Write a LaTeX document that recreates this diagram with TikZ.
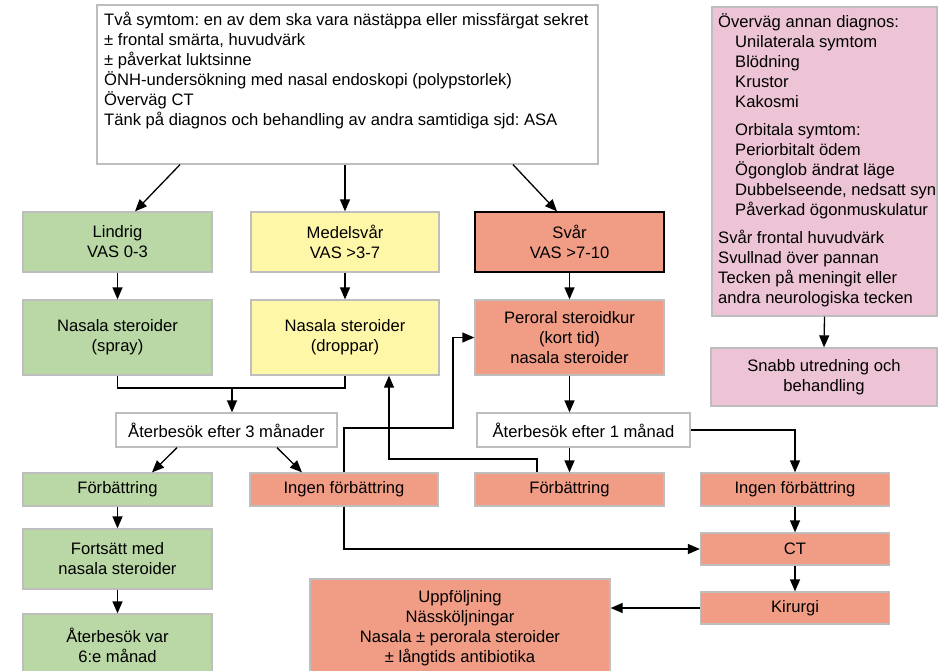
\documentclass[tikz,border=0pt]{standalone}
\usepackage{fontspec}
\setmainfont{Liberation Sans}
\usetikzlibrary{arrows.meta}
\frenchspacing
\definecolor{cgreen}{RGB}{186,216,166}
\definecolor{cyellow}{RGB}{255,247,168}
\definecolor{csalmon}{RGB}{241,157,134}
\definecolor{cpink}{RGB}{236,196,214}
\definecolor{cborder}{RGB}{190,190,190}
\begin{document}
\begin{tikzpicture}[x=1pt,y=-1pt,
  font=\fontsize{16.6}{20}\selectfont\frenchspacing,
  box/.style={draw=cborder, line width=1.3pt, inner sep=0pt, align=center, text=black},
  conn/.style={line width=1.3pt, -{Triangle[length=12pt,width=10pt]}},
  wire/.style={line width=1.3pt}]
\clip (0,0) rectangle (944,670);
\fill[white] (0,0) rectangle (944,670);

% top box
\node[box, fill=white, minimum width=501pt, minimum height=159pt] (top) at (347.5,84.5) {};
\node[anchor=base west, inner sep=0pt] (toptext) at (104,25) {\parbox[t]{490pt}{\raggedright
Två symtom: en av dem ska vara nästäppa eller missfärgat sekret\\
± frontal smärta, huvudvärk\\
± påverkat luktsinne\\
ÖNH-undersökning med nasal endoskopi (polypstorlek)\\
Överväg CT\\
Tänk på diagnos och behandling av andra samtidiga sjd: ASA}};

% pink box
\node[box, fill=cpink, minimum width=225pt, minimum height=309pt] (pink) at (824.5,161.5) {};
\node[anchor=base west, inner sep=0pt] (pinktext) at (718,27) {\parbox[t]{218pt}{\raggedright
Överväg annan diagnos:\\
\hspace*{17pt}Unilaterala symtom\\
\hspace*{17pt}Blödning\\
\hspace*{17pt}Krustor\\
\hspace*{17pt}Kakosmi\\[8pt]
\hspace*{17pt}Orbitala symtom:\\
\hspace*{17pt}Periorbitalt ödem\\
\hspace*{17pt}Ögonglob ändrat läge\\
\hspace*{17pt}Dubbelseende, nedsatt syn\\
\hspace*{17pt}Påverkad ögonmuskulatur\\[8pt]
Svår frontal huvudvärk\\
Svullnad över pannan\\
Tecken på meningit eller\\
andra neurologiska tecken}};
\node[box, fill=cpink, minimum width=226pt, minimum height=58pt] (snabb) at (824,377) {Snabb utredning och\\behandling};

% severity row
\node[box, fill=cgreen, minimum width=189pt, minimum height=60pt] (lindrig) at (117.5,242) {Lindrig\\VAS 0-3};
\node[box, fill=cyellow, minimum width=188pt, minimum height=60pt] (medel) at (345,242) {Medelsvår\\VAS >3-7};
\node[box, draw=black, fill=csalmon, minimum width=189pt, minimum height=60pt] (svar) at (569.5,242) {Svår\\VAS >7-10};

% treatment row
\node[box, fill=cgreen, minimum width=189pt, minimum height=75pt] (nasal1) at (117.5,337.5) {Nasala steroider\\(spray)};
\node[box, fill=cyellow, minimum width=188pt, minimum height=75pt] (nasal2) at (345,337.5) {Nasala steroider\\(droppar)};
\node[box, fill=csalmon, minimum width=189pt, minimum height=75pt] (peroral) at (569.5,337.5) {Peroral steroidkur\\(kort tid)\\nasala steroider};

% follow-up
\node[box, fill=white, minimum width=221pt, minimum height=34pt] (ater3) at (226.5,430) {Återbesök efter 3 månader};
\node[box, fill=white, minimum width=213pt, minimum height=34pt] (ater1) at (583.5,430) {Återbesök efter 1 månad};

% outcome row
\node[box, fill=cgreen, minimum width=189pt, minimum height=33pt] (forb1) at (117.5,489.5) {Förbättring};
\node[box, fill=csalmon, minimum width=188pt, minimum height=33pt] (ingen1) at (344,489.5) {Ingen förbättring};
\node[box, fill=csalmon, minimum width=189pt, minimum height=33pt] (forb2) at (569.5,489.5) {Förbättring};
\node[box, fill=csalmon, minimum width=189pt, minimum height=33pt] (ingen2) at (795,489.5) {Ingen förbättring};

\node[box, fill=csalmon, minimum width=189pt, minimum height=32pt] (ct) at (795,549) {CT};
\node[box, fill=csalmon, minimum width=189pt, minimum height=32pt] (kirurgi) at (795,608) {Kirurgi};
\node[box, fill=csalmon, minimum width=300pt, minimum height=98pt] (uppf) at (460,628) {Uppföljning\\Nässköljningar\\Nasala ± perorala steroider\\± långtids antibiotika};

\node[box, fill=cgreen, minimum width=189pt, minimum height=60pt] (fort) at (117.5,559) {Fortsätt med\\nasala steroider};
\node[box, fill=cgreen, minimum width=189pt, minimum height=62pt] (ater6) at (117.5,645) {Återbesök var\\6:e månad};

% connectors
\draw[conn] (top.south -| 180,0) -- (lindrig.north -| 135,0);
\draw[conn] (top.south -| medel.north) -- (medel.north);
\draw[conn] (top.south -| 513,0) -- (svar.north -| 557,0);
\draw[conn] (pink.south) -- (snabb.north);

\draw[conn] (lindrig.south) -- (nasal1.north);
\draw[conn] (medel.south) -- (nasal2.north);
\draw[conn] (svar.south) -- (peroral.north);

\coordinate (join) at (232,388);
\draw[wire] (nasal1.south) -- (nasal1.south |- join) -| (nasal2.south);
\draw[conn] (join) -- (join |- ater3.north);
\draw[conn] (peroral.south) -- (peroral.south |- ater1.north);

\draw[conn] (ater3.south -| 177,0) -- (forb1.north -| 152,0);
\draw[conn] (ater3.south -| 277,0) -- (ingen1.north -| 302,0);
\draw[conn] (ater1.south -| forb2.north) -- (forb2.north);
\draw[conn] (ater1.east) -| (ingen2.north);

\draw[conn] (forb1.south) -- (fort.north);
\draw[conn] (fort.south) -- (ater6.north);

\draw[conn] (ingen2.south) -- (ct.north);
\draw[conn] (ct.south) -- (kirurgi.north);
\draw[conn] (kirurgi.west) -- (uppf.east |- kirurgi.west);

\draw[conn] (ingen1.north) |- (453,428) |- (peroral.west);
\draw[conn] (ingen1.south) |- (ct.west);
\draw[conn] (forb2.north -| 537,0) |- (389,459) -- (nasal2.south -| 389,0);
\end{tikzpicture}
\end{document}
